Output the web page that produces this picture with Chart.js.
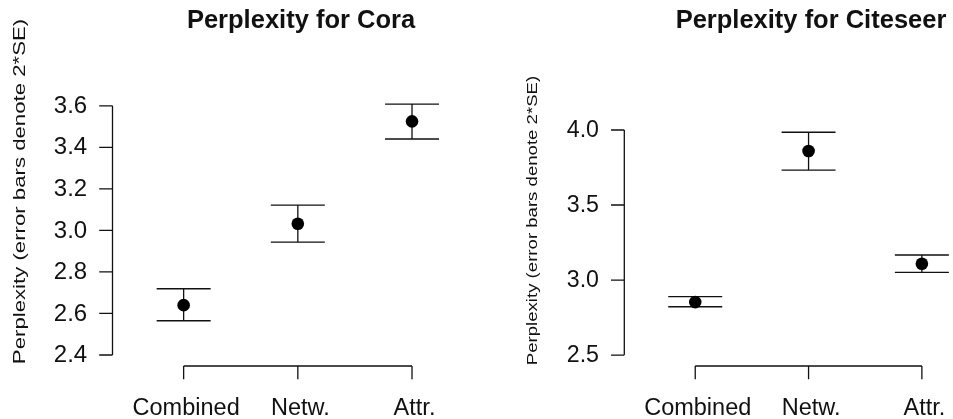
<!DOCTYPE html>
<html>
<head>
<meta charset="utf-8">
<script src="https://cdn.jsdelivr.net/npm/chart.js@4/dist/chart.umd.min.js"></script>
<style>
  html, body { margin: 0; padding: 0; background: #fff; overflow: hidden; }
  #wrap { position: relative; width: 953px; height: 419px; }
  #wrap canvas { position: absolute; left: 0; top: 0; }
</style>
</head>
<body>
<div id="wrap">
  <canvas id="coraChart" width="953" height="419"></canvas>
  <canvas id="citeseerChart" width="953" height="419"></canvas>
</div>
<script>
// categories and values
const categories = ['Combined', 'Netw.', 'Attr.'];

const coraMean  = [2.640, 3.032, 3.525];
const coraLower = [2.565, 2.944, 3.440];
const coraUpper = [2.719, 3.122, 3.608];
const coraTicks = [2.4, 2.6, 2.8, 3.0, 3.2, 3.4, 3.6];

const citeseerMean  = [2.853, 3.860, 3.109];
const citeseerLower = [2.822, 3.733, 3.051];
const citeseerUpper = [2.889, 3.985, 3.167];
const citeseerTicks = [2.5, 3.0, 3.5, 4.0];

const FONT = "'Liberation Sans', Arial, Helvetica, sans-serif";
const INK = '#111';

// R-style plot: detached axes, error bars, rotated ylab
const rStylePlugin = {
    id: 'rStyle',
    beforeDatasetsDraw(chart) {
        const o = chart.options.plugins.rStyle;
        const ctx = chart.ctx;
        const xs = chart.scales.x, ys = chart.scales.y;
        ctx.save();
        ctx.strokeStyle = INK;
        ctx.lineWidth = 1.3;
        o.lower.forEach((lo, i) => {
            const px = xs.getPixelForValue(i + 1);
            const yl = ys.getPixelForValue(lo);
            const yu = ys.getPixelForValue(o.upper[i]);
            ctx.beginPath();
            ctx.moveTo(px, yl); ctx.lineTo(px, yu);
            ctx.moveTo(px - 27, yl); ctx.lineTo(px + 27, yl);
            ctx.moveTo(px - 27, yu); ctx.lineTo(px + 27, yu);
            ctx.stroke();
        });
        ctx.restore();
    },
    afterDraw(chart) {
        const o = chart.options.plugins.rStyle;
        const ctx = chart.ctx;
        const area = chart.chartArea;
        const xs = chart.scales.x, ys = chart.scales.y;
        const tick = 13.3;
        ctx.save();
        ctx.strokeStyle = INK;
        ctx.fillStyle = INK;
        ctx.lineWidth = 1.3;

        // y axis
        const ax = area.left;
        const yTop = ys.getPixelForValue(o.ticks[o.ticks.length - 1]);
        const yBot = ys.getPixelForValue(o.ticks[0]);
        ctx.beginPath();
        ctx.moveTo(ax, yTop); ctx.lineTo(ax, yBot);
        o.ticks.forEach(t => {
            const py = ys.getPixelForValue(t);
            ctx.moveTo(ax - tick, py); ctx.lineTo(ax, py);
        });
        ctx.stroke();
        ctx.font = o.tickFont + 'px ' + FONT;
        ctx.textAlign = 'right';
        ctx.textBaseline = 'middle';
        o.ticks.forEach(t => {
            ctx.fillText(t.toFixed(1), ax - tick - 12, ys.getPixelForValue(t) + 0.5);
        });

        // x axis
        const ay = area.bottom;
        const x0 = xs.getPixelForValue(1);
        const x1 = xs.getPixelForValue(categories.length);
        ctx.beginPath();
        ctx.moveTo(x0, ay); ctx.lineTo(x1, ay);
        categories.forEach((c, i) => {
            const px = xs.getPixelForValue(i + 1);
            ctx.moveTo(px, ay); ctx.lineTo(px, ay + tick);
        });
        ctx.stroke();
        ctx.font = '23.5px ' + FONT;
        ctx.textAlign = 'center';
        ctx.textBaseline = 'alphabetic';
        categories.forEach((c, i) => {
            ctx.fillText(c, xs.getPixelForValue(i + 1) + 2.5, 415);
        });

        // title
        ctx.font = 'bold 25.5px ' + FONT;
        ctx.fillText(o.title, o.titleX, 28);

        // y label (glyphs are narrower across than along the text in the original)
        ctx.save();
        ctx.translate(o.ylabX, o.ylabY);
        ctx.rotate(-Math.PI / 2);
        ctx.scale(1, o.ylabSquash);
        ctx.font = o.ylabFont + 'px ' + FONT;
        ctx.textAlign = 'center';
        ctx.textBaseline = 'middle';
        ctx.fillText('Perplexity (error bars denote 2*SE)', 0, 0);
        ctx.restore();

        ctx.restore();
    }
};

function makePanel(id, mean, lower, upper, ticks, cfg) {
    const ctx = document.getElementById(id).getContext('2d');
    return new Chart(ctx, {
        type: 'scatter',
        data: {
            datasets: [{
                data: mean.map((m, i) => ({ x: i + 1, y: m })),
                pointRadius: 6.3,
                pointBackgroundColor: '#000',
                pointBorderWidth: 0,
                showLine: false
            }]
        },
        options: {
            responsive: false,
            animation: false,
            events: [],
            layout: { padding: cfg.padding },
            plugins: {
                legend: { display: false },
                tooltip: { enabled: false },
                rStyle: {
                    lower: lower,
                    upper: upper,
                    ticks: ticks,
                    title: cfg.title,
                    titleX: cfg.titleX,
                    ylabX: cfg.ylabX,
                    ylabY: cfg.ylabY,
                    ylabFont: cfg.ylabFont,
                    ylabSquash: cfg.ylabSquash,
                    tickFont: cfg.tickFont
                }
            },
            scales: {
                x: { type: 'linear', display: false, min: cfg.xMin, max: cfg.xMax },
                y: { type: 'linear', display: false, min: cfg.yMin, max: cfg.yMax }
            }
        },
        plugins: [rStylePlugin]
    });
}

makePanel('coraChart', coraMean, coraLower, coraUpper, coraTicks, {
    padding: { left: 112.5, right: 469.5, top: 95, bottom: 53 },
    xMin: 0.377, xMax: 3.626, yMin: 2.347, yMax: 3.652,
    title: 'Perplexity for Cora', titleX: 301,
    ylabX: 20.8, ylabY: 191.5, ylabFont: 22.2, ylabSquash: 0.72, tickFont: 24
});

makePanel('citeseerChart', citeseerMean, citeseerLower, citeseerUpper, citeseerTicks, {
    padding: { left: 624.3, right: 3, top: 121, bottom: 53 },
    xMin: 0.374, xMax: 3.219, yMin: 2.427, yMax: 4.06,
    title: 'Perplexity for Citeseer', titleX: 811,
    ylabX: 533, ylabY: 220.5, ylabFont: 18.6, ylabSquash: 0.8, tickFont: 23.2
});
</script>
</body>
</html>
